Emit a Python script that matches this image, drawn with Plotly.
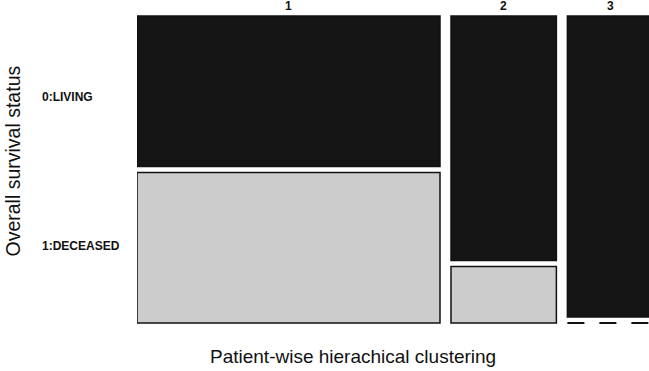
import plotly.graph_objects as go

# ---- data ----
clusters = ["1", "2", "3"]
living = [23, 13, 13]
deceased = [23, 3, 0]
status_labels = ["0:LIVING", "1:DECEASED"]
x_title = "Patient-wise hierachical clustering"
y_title = "Overall survival status"

# ---- layout constants ----
W, H = 649, 371
ML, MR, MT, MB = 137, 0, 14, 44
px_per_unit = 303 / (living[0] + deceased[0])
xgap = 11 / px_per_unit
ygap = 6 / 301.0
plot_w = W - ML - MR
plot_h = H - MT - MB

totals = [l + d for l, d in zip(living, deceased)]
lefts = []
pos = 0.0
for n in totals:
    lefts.append(pos)
    pos += n + xgap
centers = [l + n / 2 for l, n in zip(lefts, totals)]

dec_frac = [d / n for d, n in zip(deceased, totals)]
liv_frac = [l / n for l, n in zip(living, totals)]

LIV_COL = "#151515"
DEC_COL = "#cccccc"

fig = go.Figure()

# deceased (bottom)
dx, dy, dw = [], [], []
for c, n, f in zip(centers, totals, dec_frac):
    if f > 0:
        dx.append(c); dy.append(f); dw.append(n)
fig.add_trace(go.Bar(x=dx, y=dy, width=dw, base=0,
                     marker=dict(color=DEC_COL, line=dict(color="#111111", width=1.5)),
                     showlegend=False, hoverinfo="skip"))

# living (top)
fig.add_trace(go.Bar(x=centers, y=liv_frac, width=totals,
                     base=[f + ygap for f in dec_frac],
                     marker=dict(color=LIV_COL, line=dict(color="#111111", width=1.5)),
                     showlegend=False, hoverinfo="skip"))

# zero cells drawn as dashed lines
for l, n, f in zip(lefts, totals, dec_frac):
    if f == 0:
        fig.add_trace(go.Scatter(x=[l, l + n], y=[0, 0], mode="lines",
                                 line=dict(color="#111111", width=2, dash="17px,15px"),
                                 showlegend=False, hoverinfo="skip"))

y_lo = -4 / 301.0
y_hi = 1 + ygap + 2 / 301.0
x_hi = plot_w / px_per_unit

fig.update_layout(
    width=W, height=H,
    margin=dict(l=ML, r=MR, t=MT, b=MB),
    paper_bgcolor="white", plot_bgcolor="white",
    barmode="overlay",
    bargap=0,
    font=dict(family="Liberation Sans, Arial, sans-serif", color="#111111"),
    xaxis=dict(range=[0, x_hi], showgrid=False, zeroline=False, showticklabels=False,
               showline=False, ticks=""),
    yaxis=dict(range=[y_lo, y_hi], showgrid=False, zeroline=False, showticklabels=False,
               showline=False, ticks=""),
)

annotations = []
# cluster labels on top
for c, lab in zip(centers, clusters):
    annotations.append(dict(x=c, xref="x", y=1, yref="paper", text="<b>%s</b>" % lab,
                            showarrow=False, xanchor="center", yanchor="middle",
                            yshift=MT - 6, font=dict(size=12)))
# status labels on left
liv_center = dec_frac[0] + ygap + liv_frac[0] / 2
dec_center = dec_frac[0] / 2
for yv, lab, ys in [(liv_center, status_labels[0], -6), (dec_center, status_labels[1], 2)]:
    annotations.append(dict(x=0, xref="paper", y=yv, yref="y", text="<b>%s</b>" % lab,
                            showarrow=False, xanchor="left", yanchor="middle",
                            xshift=40 - ML, yshift=ys, font=dict(size=12)))
# axis titles
annotations.append(dict(x=((208 + 498) / 2 - ML) / plot_w, xref="paper",
                        y=0, yref="paper", text=x_title, showarrow=False,
                        xanchor="center", yanchor="middle", yshift=-(356 - (H - MB)),
                        font=dict(size=19)))
annotations.append(dict(x=0, xref="paper", y=((H - MB) - 161.5) / plot_h, yref="paper",
                        text=y_title, textangle=-90, showarrow=False,
                        xanchor="center", yanchor="middle", xshift=12 - ML,
                        font=dict(size=19.5)))
fig.update_layout(annotations=annotations)

fig.write_html("out.html",
               config={"displayModeBar": False, "staticPlot": True},
               post_script="document.body.style.margin='0';document.body.style.padding='0';")
